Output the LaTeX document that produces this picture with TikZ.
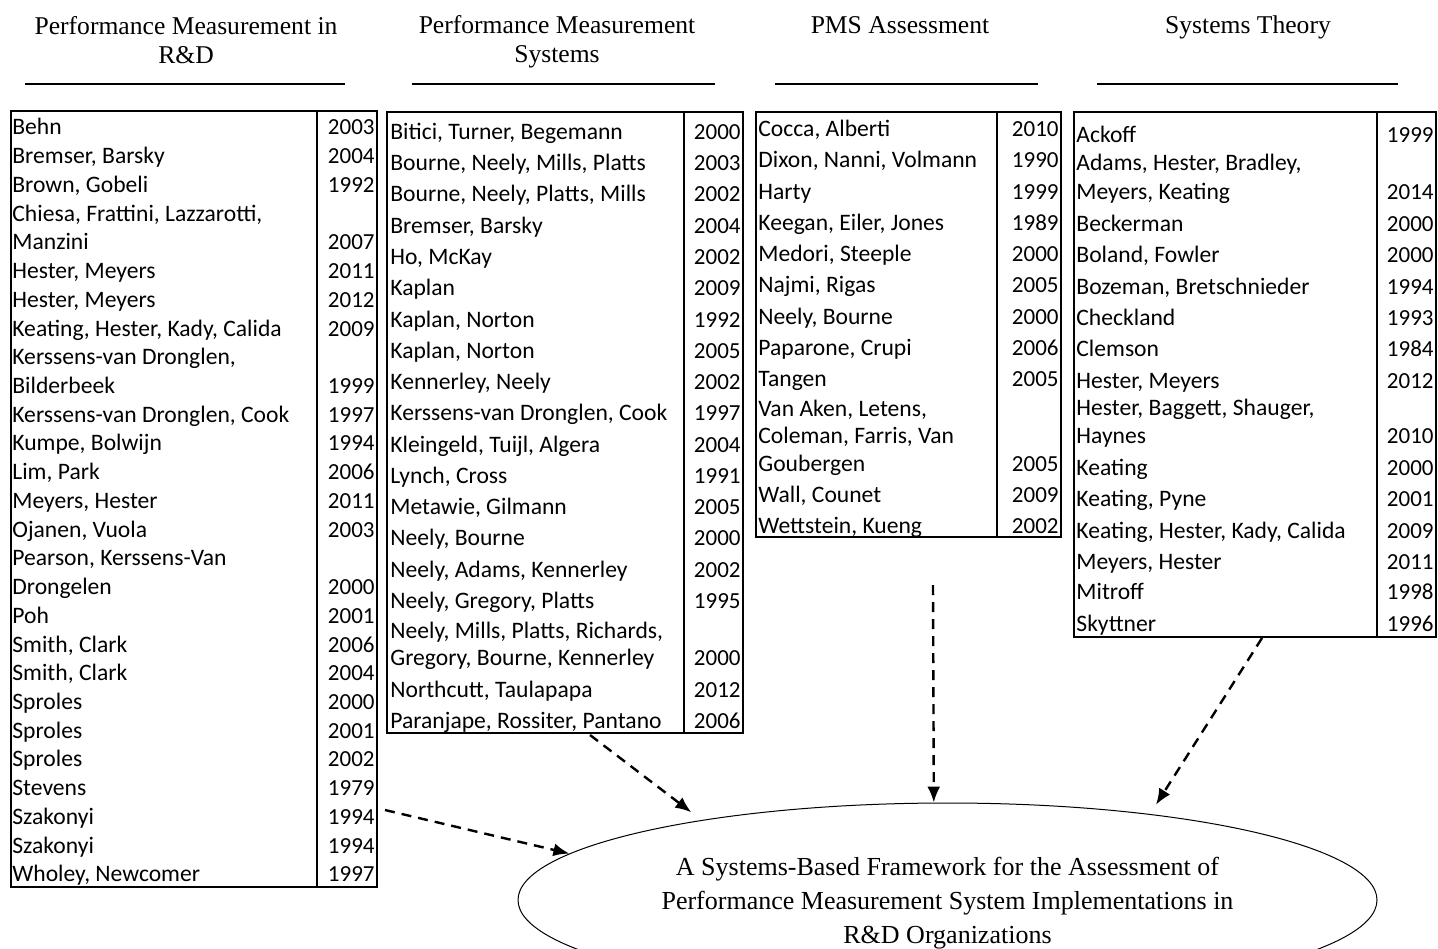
\documentclass[tikz,border=0pt]{standalone}
\usepackage{fontspec}
\setmainfont{Liberation Serif}
\newfontfamily\tabfont{Carlito}
\usetikzlibrary{shapes.geometric,arrows.meta}
\tikzset{
  tbl/.style={draw, line width=1pt, rectangle, inner sep=0pt},
  coldiv/.style={line width=1pt},
  nm/.style={anchor=base west, inner sep=0pt, font=\tabfont\fontsize{11.8}{13}\selectfont},
  yr/.style={anchor=base east, inner sep=0pt, font=\tabfont\fontsize{11.5}{13}\selectfont},
  hd/.style={align=center, inner sep=0pt, font=\fontsize{12.8}{14.5}\selectfont},
  hline/.style={line width=1pt},
  flow/.style={line width=1.2pt, dash pattern=on 5pt off 3.5pt, -{Latex[length=8pt,width=6.5pt]}},
}
\begin{document}
\begin{tikzpicture}[x=0.5pt,y=-0.5pt]
\useasboundingbox (0,0) rectangle (1438,948);
\clip (0,0) rectangle (1438,948);

% headings
\node[hd] (h1) at (186,40) {Performance Measurement in\\R\&D};
\node[hd] (h2) at (557,42) {Performance Measurement\\Systems};
\node[hd, anchor=base] (h3) at (900,33.5) {PMS Assessment};
\node[hd, anchor=base] (h4) at (1248,33.5) {Systems Theory};
\draw[hline] (25,84) -- (345,84);
\draw[hline] (412,84) -- (715,84);
\draw[hline] (775,84) -- (1038,84);
\draw[hline] (1097,84) -- (1398,84);

% table 1
\node[tbl, minimum width=183pt, minimum height=388pt] (t1) at (194,499) {};
\draw[coldiv] (317,111) -- (317,887);
\foreach \k/\tx [count=\i] in {0/Behn, 1/{Bremser, Barsky}, 2/{Brown, Gobeli}, 3/{Chiesa, Frattini, Lazzarotti,}, 4/Manzini, 5/{Hester, Meyers}, 6/{Hester, Meyers}, 7/{Keating, Hester, Kady, Calida}, 8/{Kerssens-van Dronglen,}, 9/Bilderbeek, 10/{Kerssens-van Dronglen, Cook}, 11/{Kumpe, Bolwijn}, 12/{Lim, Park}, 13/{Meyers, Hester}, 14/{Ojanen, Vuola}, 15/{Pearson, Kerssens-Van}, 16/Drongelen, 17/Poh, 18/{Smith, Clark}, 19/{Smith, Clark}, 20/Sproles, 21/Sproles, 22/Sproles, 23/Stevens, 24/Szakonyi, 25/Szakonyi, 26/{Wholey, Newcomer}}
  \node[nm] (t1n\i) at (12,127.5+28.73*\k+7.4) {\tx};
\foreach \k/\tx [count=\i] in {0/2003, 1/2004, 2/1992, 4/2007, 5/2011, 6/2012, 7/2009, 9/1999, 10/1997, 11/1994, 12/2006, 13/2011, 14/2003, 16/2000, 17/2001, 18/2006, 19/2004, 20/2000, 21/2001, 22/2002, 23/1979, 24/1994, 25/1994, 26/1997}
  \node[yr] (t1y\i) at (375,127.5+28.73*\k+7.4) {\tx};

% table 2
\node[tbl, minimum width=178pt, minimum height=310.5pt] (t2) at (565,422.5) {};
\draw[coldiv] (684,112) -- (684,733);
\foreach \c/\tx [count=\i] in {132/{Bitici, Turner, Begemann}, 163.3/{Bourne, Neely, Mills, Platts}, 194.5/{Bourne, Neely, Platts, Mills}, 225.8/{Bremser, Barsky}, 257.1/{Ho, McKay}, 288.4/Kaplan, 319.6/{Kaplan, Norton}, 350.9/{Kaplan, Norton}, 382.2/{Kennerley, Neely}, 413.4/{Kerssens-van Dronglen, Cook}, 444.7/{Kleingeld, Tuijl, Algera}, 476/{Lynch, Cross}, 507.2/{Metawie, Gilmann}, 538.5/{Neely, Bourne}, 569.8/{Neely, Adams, Kennerley}, 601/{Neely, Gregory, Platts}, 631/{Neely, Mills, Platts, Richards,}, 658/{Gregory, Bourne, Kennerley}, 690/{Northcutt, Taulapapa}, 721/{Paranjape, Rossiter, Pantano}}
  \node[nm] (t2n\i) at (390,\c+7.4) {\tx};
\foreach \c/\tx [count=\i] in {132/2000, 163.3/2003, 194.5/2002, 225.8/2004, 257.1/2002, 288.4/2009, 319.6/1992, 350.9/2005, 382.2/2002, 413.4/1997, 444.7/2004, 476/1991, 507.2/2005, 538.5/2000, 569.8/2002, 601/1995, 658/2000, 690/2012, 721/2006}
  \node[yr] (t2y\i) at (741,\c+7.4) {\tx};

% table 3
\node[tbl, minimum width=152.5pt, minimum height=212.5pt] (t3) at (908.5,324.5) {};
\draw[coldiv] (997,112) -- (997,537);
\foreach \c/\tx [count=\i] in {129/{Cocca, Alberti}, 160.3/{Dixon, Nanni, Volmann}, 191.6/Harty, 222.9/{Keegan, Eiler, Jones}, 254.2/{Medori, Steeple}, 285.5/{Najmi, Rigas}, 316.8/{Neely, Bourne}, 348.1/{Paparone, Crupi}, 379.4/Tangen, 409/{Van Aken, Letens,}, 436.5/{Coleman, Farris, Van}, 464/Goubergen, 495/{Wall, Counet}, 526/{Wettstein, Kueng}}
  \node[nm] (t3n\i) at (758,\c+7.4) {\tx};
\foreach \c/\tx [count=\i] in {129/2010, 160.3/1990, 191.6/1999, 222.9/1989, 254.2/2000, 285.5/2005, 316.8/2000, 348.1/2006, 379.4/2005, 464/2005, 495/2009, 526/2002}
  \node[yr] (t3y\i) at (1059,\c+7.4) {\tx};

% table 4
\node[tbl, minimum width=181pt, minimum height=262.5pt] (t4) at (1255,374.5) {};
\draw[coldiv] (1377,112) -- (1377,637);
\foreach \c/\tx [count=\i] in {135/Ackoff, 163/{Adams, Hester, Bradley,}, 192/{Meyers, Keating}, 224/Beckerman, 255/{Boland, Fowler}, 287/{Bozeman, Bretschnieder}, 318/Checkland, 349/Clemson, 381/{Hester, Meyers}, 408/{Hester, Baggett, Shauger,}, 436/Haynes, 468/Keating, 499/{Keating, Pyne}, 531/{Keating, Hester, Kady, Calida}, 562/{Meyers, Hester}, 592/Mitroff, 624/Skyttner}
  \node[nm] (t4n\i) at (1076,\c+7.4) {\tx};
\foreach \c/\tx [count=\i] in {135/1999, 192/2014, 224/2000, 255/2000, 287/1994, 318/1993, 349/1984, 381/2012, 436/2010, 468/2000, 499/2001, 531/2009, 562/2011, 592/1998, 624/1996}
  \node[yr] (t4y\i) at (1434,\c+7.4) {\tx};

% framework ellipse
\node[ellipse, draw, line width=0.5pt, minimum width=429.5pt, minimum height=97pt, inner sep=0pt, align=center, font=\fontsize{13}{17}\selectfont] (fw) at (947.5,900) {\rule{0pt}{12pt}A Systems-Based Framework for the Assessment of\\Performance Measurement System Implementations in\\R\&D Organizations};

% connectors
\coordinate (s1) at (385,810);
\coordinate (s2) at (590,735);
\coordinate (s3) at (933,585);
\coordinate (s4) at (1262,638);
\draw[flow] (s1) -- (fw.173.15);
\draw[flow, shorten >=6.4pt] (s2) -- (fw.162.25);
\draw[flow] (s3) -- (fw.98.5);
\draw[flow, shorten >=5.5pt] (s4) -- (fw.23.27);
\end{tikzpicture}
\end{document}
